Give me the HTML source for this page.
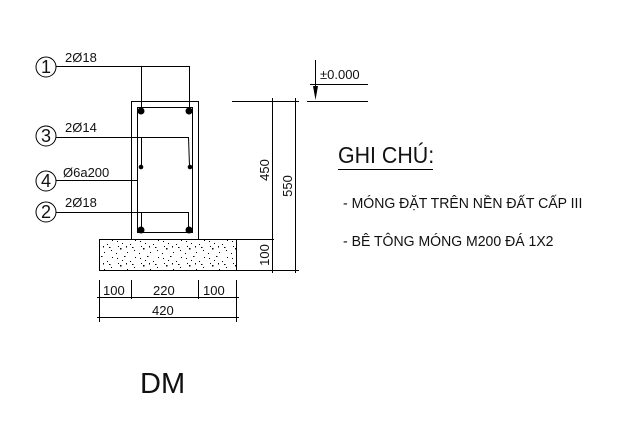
<!DOCTYPE html>
<html><head><meta charset="utf-8"><style>
html,body{margin:0;padding:0;background:#fff;}
svg{display:block;}
text{font-family:"Liberation Sans",sans-serif;fill:#111;}
</style></head><body>
<svg width="640" height="437" viewBox="0 0 640 437" xmlns="http://www.w3.org/2000/svg">
<defs>
<pattern id="conc" width="23" height="17" patternUnits="userSpaceOnUse">
<rect x="2" y="3" width="1" height="1" fill="#000"/><rect x="9" y="1" width="1.5" height="1" fill="#000"/>
<rect x="15" y="6" width="1" height="1" fill="#000"/><rect x="5" y="10" width="1.5" height="1.5" fill="#000"/>
<rect x="19" y="12" width="1" height="1" fill="#000"/><rect x="12" y="14" width="1" height="1" fill="#000"/>
<rect x="20" y="2" width="1" height="1" fill="#000"/><rect x="1" y="15" width="1" height="1" fill="#000"/>
<rect x="11" y="8" width="1" height="1.5" fill="#000"/><rect x="7" y="5" width="1" height="1" fill="#000"/>
<rect x="17" y="9" width="1.5" height="1" fill="#000"/><rect x="3" y="8" width="1" height="1" fill="#000"/>
</pattern>
</defs>
<g stroke="#000" fill="none" stroke-width="1">
<rect x="131.5" y="101.5" width="67" height="138"/>
<rect x="137.5" y="107.5" width="55" height="125"/>
<rect x="99.5" y="239.5" width="137" height="31" fill="url(#conc)"/>
<circle cx="46" cy="67" r="10"/><line x1="56" y1="66.5" x2="189" y2="66.5"/>
<line x1="141.5" y1="66" x2="141.5" y2="108"/><line x1="189.5" y1="66" x2="189.5" y2="108"/>
<circle cx="46" cy="136" r="10"/><line x1="56" y1="137.5" x2="188" y2="137.5"/>
<line x1="141.5" y1="137" x2="141.5" y2="166"/><line x1="188.5" y1="137" x2="189.5" y2="166"/>
<circle cx="46" cy="181" r="10"/><line x1="56" y1="180.5" x2="137" y2="180.5"/>
<circle cx="46" cy="212" r="10"/><line x1="56" y1="212.5" x2="188" y2="212.5"/>
<line x1="141.5" y1="212" x2="141.5" y2="228"/><line x1="188.5" y1="212" x2="188.5" y2="228"/>
<line x1="232" y1="101.5" x2="299" y2="101.5"/>
<line x1="236" y1="270.5" x2="299" y2="270.5"/>
<line x1="236" y1="239.5" x2="274" y2="239.5"/>
<line x1="272.5" y1="98" x2="272.5" y2="273"/>
<line x1="295.5" y1="98" x2="295.5" y2="273"/>
<line x1="315.5" y1="60" x2="315.5" y2="86"/>
<line x1="310" y1="84.5" x2="368" y2="84.5"/>
<line x1="307" y1="101.5" x2="368" y2="101.5"/>
<line x1="99.5" y1="280" x2="99.5" y2="322"/><line x1="236.5" y1="280" x2="236.5" y2="322"/>
<line x1="131.5" y1="280" x2="131.5" y2="299"/><line x1="198.5" y1="280" x2="198.5" y2="299"/>
<line x1="97" y1="297.5" x2="239" y2="297.5"/>
<line x1="97" y1="317.5" x2="239" y2="317.5"/>
<line x1="338" y1="169.5" x2="433" y2="169.5"/>
</g>
<polygon points="313,86 318,86 315.5,100" fill="#000"/>
<g fill="#000">
<circle cx="141" cy="111" r="3.5"/><circle cx="189" cy="111" r="3.5"/>
<circle cx="141" cy="167" r="2.3"/><circle cx="190" cy="167" r="2.3"/>
<circle cx="141" cy="230" r="3.5"/><circle cx="189" cy="230" r="3.5"/>
</g>
<g font-size="18">
<text x="46" y="73" text-anchor="middle">1</text>
<text x="46" y="142" text-anchor="middle">3</text>
<text x="46" y="187" text-anchor="middle">4</text>
<text x="46" y="218" text-anchor="middle">2</text>
</g>
<g font-size="13">
<text x="65" y="62">2Ø18</text>
<text x="65" y="132">2Ø14</text>
<text x="63" y="177">Ø6a200</text>
<text x="65" y="207">2Ø18</text>
<text x="320" y="79">±0.000</text>
<text x="103" y="295">100</text>
<text x="153" y="295">220</text>
<text x="203" y="295">100</text>
<text x="152" y="315">420</text>
<text transform="translate(269,170) rotate(-90)" text-anchor="middle">450</text>
<text transform="translate(292,186) rotate(-90)" text-anchor="middle">550</text>
<text transform="translate(269,255) rotate(-90)" text-anchor="middle">100</text>
</g>
<text transform="translate(338,163) scale(0.93,1)" font-size="23">GHI CHÚ:</text>
<text transform="translate(343,208) scale(0.97,1)" font-size="14.5">- MÓNG ĐẶT TRÊN NỀN ĐẤT CẤP III</text>
<text transform="translate(343,246) scale(0.97,1)" font-size="14.5">- BÊ TÔNG MÓNG M200 ĐÁ 1X2</text>
<text transform="translate(140,393) scale(1,1)" font-size="29">DM</text>
</svg>
</body></html>
